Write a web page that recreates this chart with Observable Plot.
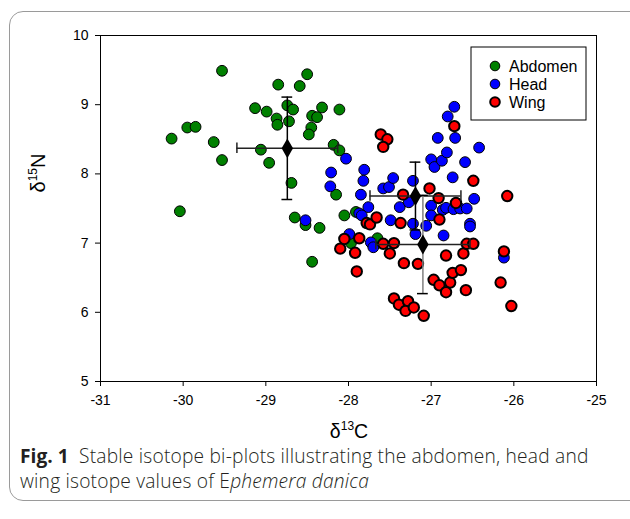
<!DOCTYPE html>
<html>
<head>
<meta charset="utf-8">
<script src="https://cdn.jsdelivr.net/npm/d3@7"></script>
<script src="https://cdn.jsdelivr.net/npm/@observablehq/plot@0.6"></script>
<style>
  html, body { margin: 0; padding: 0; background: #fff; }
  #wrap { position: relative; width: 630px; height: 519px; overflow: hidden; }
  #frame { position: absolute; left: 9px; top: 11px; width: 640px; height: 490px;
           border: 1.5px solid #9a9a9a; border-radius: 14px; box-sizing: border-box; }
  #chart { position: absolute; left: 0; top: 0; }
  #caption { position: absolute; left: 20px; top: 444px; white-space: nowrap;
         font-family: "Open Sans", sans-serif; font-size: 19.2px; letter-spacing: 0.2px; font-weight: 300; line-height: 24.5px; color: #231f20; }
  #caption b { font-weight: 700; letter-spacing: 0; }
</style>
</head>
<body>
<div id="wrap">
  <div id="frame"></div>
  <div id="chart"></div>
  <div id="caption"><b>Fig. 1</b>&nbsp; Stable isotope bi-plots illustrating the abdomen, head and<br>wing isotope values of E<i>phemera danica</i></div>
</div>
<script>
const groups = ["Abdomen", "Head", "Wing"];
const groupColors = ["#008000", "#0000ff", "#ff0000"];
const xTicks = [-31, -30, -29, -28, -27, -26, -25];
const yTicks = [5, 6, 7, 8, 9, 10];

const abdomenX = [-29.53,-28.85,-28.50,-28.59,-29.13,-28.99,-28.87,-28.86,-28.74,-28.67,
  -28.72,-28.44,-28.38,-28.32,-28.11,-28.45,-28.48,-29.95,-29.85,-30.14,
  -29.63,-29.53,-29.06,-28.96,-28.18,-28.11,-28.69,-30.04,-28.15,-28.65,
  -28.52,-28.35,-28.05,-27.91,-28.44,-27.65,-27.97];
const abdomenY = [9.49,9.29,9.44,9.27,8.95,8.90,8.80,8.71,8.99,8.93,
  8.76,8.84,8.82,8.96,8.93,8.67,8.57,8.67,8.68,8.51,
  8.46,8.20,8.35,8.16,8.42,8.34,7.87,7.46,7.70,7.37,
  7.26,7.22,7.40,7.45,6.73,7.07,7.00];

const headX = [-28.03,-28.21,-27.81,-27.82,-28.22,-27.85,-27.58,-27.51,-27.46,-27.22,
  -27.76,-27.87,-27.38,-27.27,-27.22,-27.49,-27.19,-27.06,-27.00,-27.00,
  -26.85,-26.86,-26.82,-26.73,-26.65,-26.57,-26.53,-26.53,-26.48,-26.74,
  -26.59,-27.00,-26.96,-26.87,-26.81,-26.92,-26.71,-26.80,-26.72,-26.42,
  -26.12,-27.84,-28.52,-27.99,-27.73,-27.70];
const headY = [8.22,8.02,8.06,7.90,7.82,7.70,7.79,7.81,7.94,7.90,
  7.52,7.43,7.52,7.59,7.28,7.33,7.13,7.25,7.54,7.40,
  7.11,7.48,7.51,7.49,7.50,7.50,7.28,7.24,7.64,7.95,
  8.17,8.21,8.10,8.19,8.31,8.52,8.52,8.83,8.97,8.38,
  6.79,7.40,7.33,7.13,7.01,6.94];

const wingX = [-27.61,-27.53,-27.58,-26.72,-26.49,-27.02,-26.91,-26.70,-26.08,-27.34,
  -27.78,-27.74,-27.66,-27.37,-26.90,-28.05,-27.87,-28.10,-27.92,-27.90,
  -27.58,-27.45,-27.50,-27.33,-27.16,-26.82,-26.61,-26.57,-26.49,-26.12,
  -26.16,-26.03,-26.97,-26.90,-26.77,-26.74,-26.64,-26.82,-26.58,-27.45,
  -27.39,-27.28,-27.31,-27.21,-27.09];
const wingY = [8.57,8.50,8.39,8.69,7.90,7.79,7.65,7.58,7.68,7.70,
  7.29,7.27,7.37,7.29,7.34,7.06,7.07,6.92,6.86,6.59,
  6.99,7.00,6.85,6.71,6.70,6.82,6.85,6.99,6.99,6.88,
  6.43,6.09,6.47,6.39,6.43,6.57,6.61,6.29,6.32,6.20,
  6.11,6.16,6.02,6.07,5.95];

// group means and standard deviations
const meanX = [-28.74, -27.19, -27.10];
const meanY = [8.37, 7.68, 6.98];
const sdX = [0.61, 0.55, 0.57];
const sdY = [0.74, 0.49, 0.71];
const vBarColors = ["#000", "#000", "#808080"];

const toPts = (xs, ys, g) => xs.map((x, i) => ({x, y: ys[i], group: g}));
const abdomen = toPts(abdomenX, abdomenY, groups[0]);
const head = toPts(headX, headY, groups[1]);
const wing = toPts(wingX, wingY, groups[2]);
const means = groups.map((g, i) => ({group: g, x: meanX[i], y: meanY[i], sx: sdX[i], sy: sdY[i], vc: vBarColors[i]}));

const capX = 0.065, capY = 0.075;

const plot = Plot.plot({
  width: 630,
  height: 460,
  marginLeft: 100,
  marginRight: 34,
  marginTop: 35,
  marginBottom: 79,
  x: {domain: [-31, -25]},
  y: {domain: [5, 10]},
  style: {fontFamily: "'Liberation Sans', Arial, sans-serif", fontSize: "14px", color: "#000", background: "transparent", overflow: "visible"},
  marks: [
    Plot.axisX({ticks: xTicks, tickSize: 5, tickPadding: 9, tickFormat: d => String(d), label: null, fontSize: 14, stroke: "#000"}),
    Plot.axisY({ticks: yTicks, tickSize: 5, tickPadding: 7, tickFormat: d => String(d), label: null, fontSize: 14, stroke: "#000"}),
    Plot.dot(abdomen, {x: "x", y: "y", r: 5.4, fill: groupColors[0], stroke: "#000", strokeWidth: 1}),
    Plot.dot(head, {x: "x", y: "y", r: 5.4, fill: groupColors[1], stroke: "#000", strokeWidth: 1}),
    Plot.dot(wing, {x: "x", y: "y", r: 5.2, fill: groupColors[2], stroke: "#000", strokeWidth: 2}),
    // error bars
    Plot.ruleY(means, {y: "y", x1: d => d.x - d.sx, x2: d => d.x + d.sx, stroke: "#222", strokeWidth: 1.5}),
    Plot.ruleX(means, {x: "x", y1: d => d.y - d.sy, y2: d => d.y + d.sy, stroke: d => d.vc, strokeWidth: 1.5}),
    Plot.ruleX(means, {x: d => d.x - d.sx, y1: d => d.y - capY, y2: d => d.y + capY, stroke: "#222", strokeWidth: 1.5}),
    Plot.ruleX(means, {x: d => d.x + d.sx, y1: d => d.y - capY, y2: d => d.y + capY, stroke: "#222", strokeWidth: 1.5}),
    Plot.ruleY(means, {y: d => d.y - d.sy, x1: d => d.x - capX, x2: d => d.x + capX, stroke: "#000", strokeWidth: 1.5}),
    Plot.ruleY(means, {y: d => d.y + d.sy, x1: d => d.x - capX, x2: d => d.x + capX, stroke: "#000", strokeWidth: 1.5}),
    Plot.dot(means, {x: "x", y: "y", symbol: "diamond", r: 6, fill: "#000", stroke: "none"}),
    Plot.frame({stroke: "#000", strokeWidth: 1})
  ]
});

const svg = d3.select(plot);
const fontFam = "'Liberation Sans', Arial, sans-serif";
// axis titles
const xt = svg.append("text")
  .attr("x", 349).attr("y", 437.5)
  .attr("text-anchor", "middle")
  .style("font-family", fontFam)
  .style("font-size", "19.5px").attr("fill", "#000");
xt.append("tspan").text("δ");
xt.append("tspan").attr("font-size", "12px").attr("dy", "-8").text("13");
xt.append("tspan").attr("dy", "8").text("C");

const yt = svg.append("text")
  .attr("transform", "translate(45,173) rotate(-90)")
  .attr("text-anchor", "middle")
  .style("font-family", fontFam)
  .style("font-size", "20px").attr("fill", "#000");
yt.append("tspan").text("δ");
yt.append("tspan").attr("font-size", "12px").attr("dy", "-8").text("15");
yt.append("tspan").attr("dy", "8").text("N");

// legend
const lg = svg.append("g").attr("transform", "translate(471,47)");
lg.append("rect").attr("width", 115).attr("height", 73).attr("fill", "#fff").attr("stroke", "#000").attr("stroke-width", 1);
groups.forEach((g, i) => {
  const row = lg.append("g").attr("transform", `translate(24,${19 + i * 18})`);
  row.append("circle").attr("r", 4.8).attr("fill", groupColors[i]).attr("stroke", "#000").attr("stroke-width", i === 2 ? 2 : 1);
  row.append("text").attr("x", 14).attr("dy", "0.36em").attr("text-anchor", "start")
    .style("font-family", fontFam).style("font-size", "16px").attr("fill", "#000").text(g);
});

document.getElementById("chart").appendChild(plot);
</script>
</body>
</html>
